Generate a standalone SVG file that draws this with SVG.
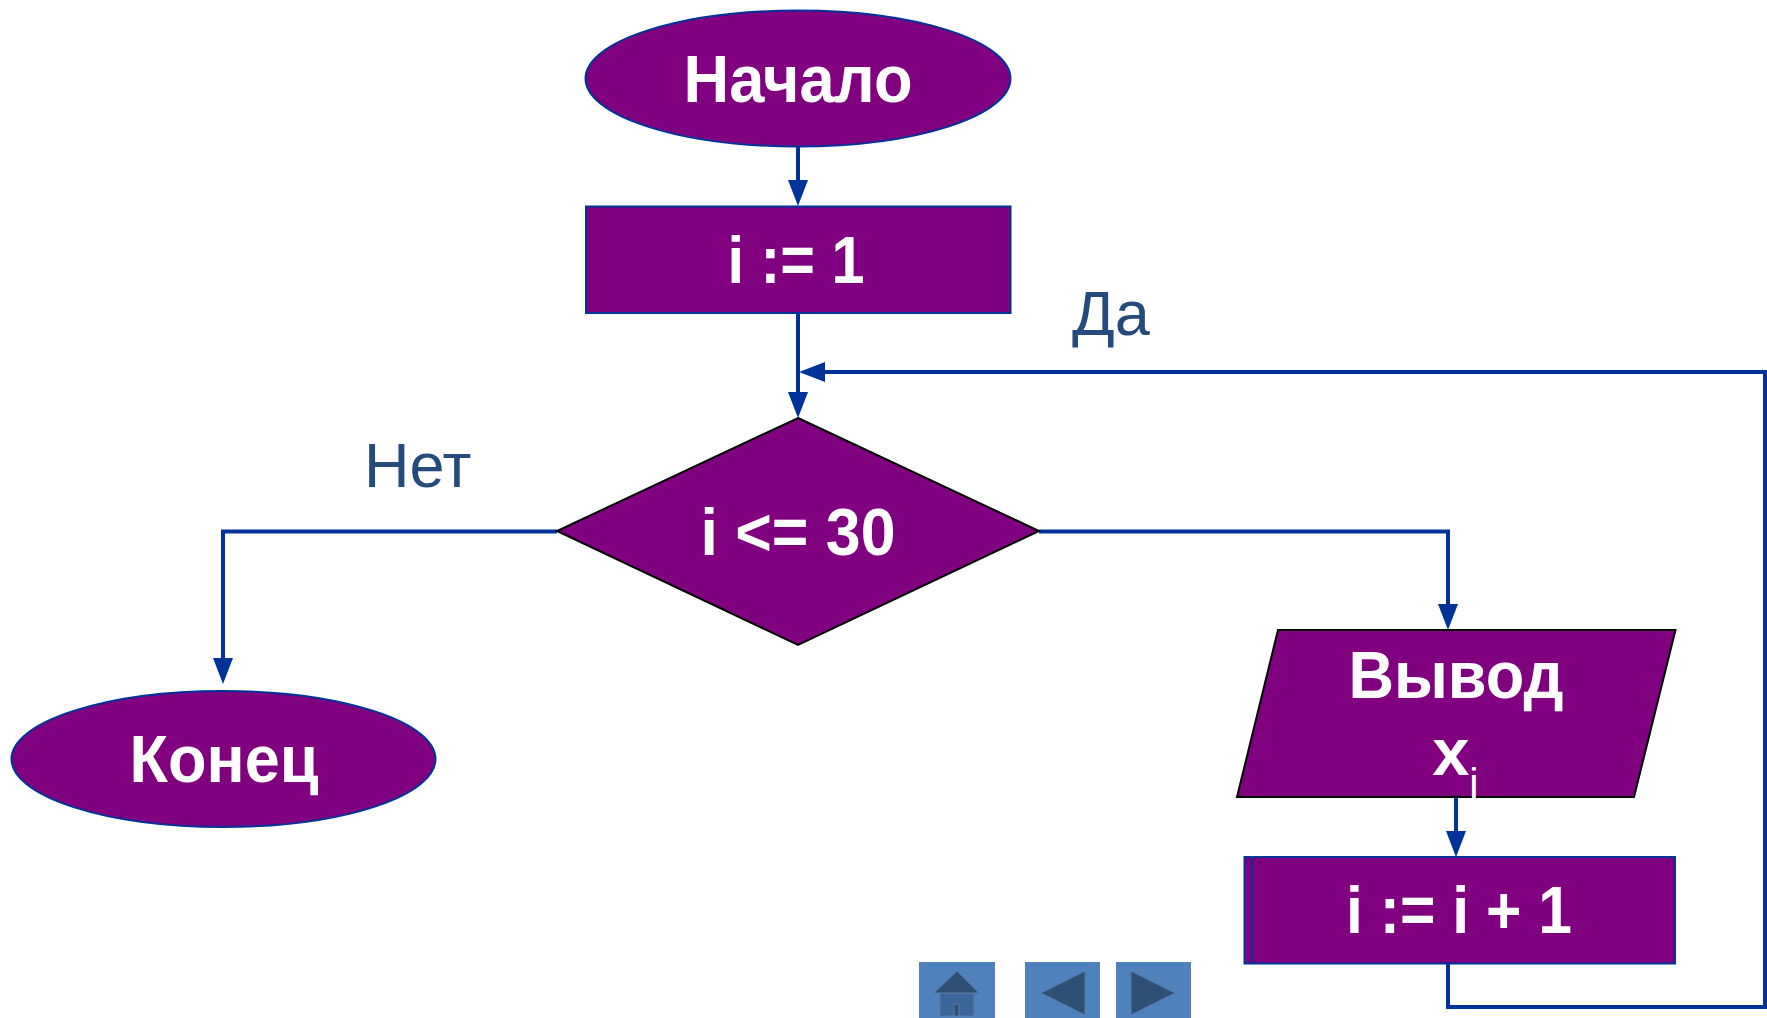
<svg xmlns="http://www.w3.org/2000/svg" width="1767" height="1018" viewBox="0 0 1767 1018">
<style>
.n{fill:#800080;stroke:#003399;stroke-width:2}
.k{fill:#800080;stroke:#000;stroke-width:2}
.t{font-family:"Liberation Sans",Arial,sans-serif;font-weight:bold;fill:#fff;text-anchor:middle;font-size:67px}
.s{font-family:"Liberation Sans",Arial,sans-serif;fill:#fff;text-anchor:middle;font-size:42px}
.l{font-family:"Liberation Sans",Arial,sans-serif;fill:#254a7c;font-size:63px}
.c{fill:none;stroke:#003399;stroke-width:4}
.b{fill:#4f81bd}
.d{fill:#2f4f75;stroke:#5a7aa5;stroke-width:1}
</style>
<defs>
<marker id="a" markerUnits="userSpaceOnUse" markerWidth="27" markerHeight="22" refX="14" refY="10" orient="auto"><path d="M0 0L26 10L0 20z" fill="#003399"/></marker>
</defs>
<rect width="1767" height="1018" fill="#fff"/>
<g id="connectors">
<path class="c" marker-end="url(#a)" d="M798 147V194"/>
<path class="c" marker-end="url(#a)" d="M798 313V406"/>
<path class="c" marker-end="url(#a)" d="M1448 964V1007H1765V372H811"/>
<path class="c" marker-end="url(#a)" d="M557 531.500H223V672"/>
<path class="c" marker-end="url(#a)" d="M1039 531.500H1448V618"/>
<path class="c" marker-end="url(#a)" d="M1456 797V845"/>
</g>
<g id="start"><ellipse class="n" cx="798" cy="78.500" rx="212.500" ry="68"/><text class="t" x="798" y="102" textLength="229" lengthAdjust="spacingAndGlyphs">Начало</text></g>
<g id="init"><rect class="n" x="586" y="206.500" width="424.500" height="106.500"/><text class="t" x="796" y="283" textLength="137" lengthAdjust="spacingAndGlyphs">i := 1</text></g>
<g id="cond"><path class="k" d="M798 418L1039 531L798 645L557 531z"/><text class="t" x="798" y="555" textLength="195" lengthAdjust="spacingAndGlyphs">i &lt;= 30</text></g>
<g id="end"><ellipse class="n" cx="223.500" cy="759" rx="212" ry="68"/><text class="t" x="224" y="782" textLength="189" lengthAdjust="spacingAndGlyphs">Конец</text></g>
<g id="output"><path class="k" d="M1278 630H1675.500L1634 797H1237z"/><text class="t" x="1456" y="698" textLength="215" lengthAdjust="spacingAndGlyphs">Вывод</text><text class="t" x="1451" y="775">x</text><text class="s" x="1474" y="798">i</text></g>
<g id="inc"><rect class="n" x="1244.500" y="857" width="430.500" height="106.500"/><path class="n" d="M1252 857V963.500"/><text class="t" x="1459" y="933" textLength="226" lengthAdjust="spacingAndGlyphs">i := i + 1</text></g>
<g id="yes"><text class="l" x="1072" y="335">Да</text></g>
<g id="no"><text class="l" x="364" y="487">Нет</text></g>
<g id="nav-home"><rect class="b" x="919" y="962" width="76" height="56"/><path d="M966 973h5v14h-5z" fill="#4f81bd" stroke="#5a7aa5"/><path d="M940 993h34v23h-34z" fill="#3c6599" stroke="#5a7aa5"/><path class="d" d="M934 993L957 971L979 993z"/><path class="d" d="M954 1004h5v12h-5z"/></g>
<g id="nav-back"><rect class="b" x="1025" y="962" width="75" height="56"/><path class="d" d="M1041 993L1085 971V1015z"/></g>
<g id="nav-next"><rect class="b" x="1116" y="962" width="75" height="56"/><path class="d" d="M1131 971L1175 993L1131 1015z"/></g>
</svg>
